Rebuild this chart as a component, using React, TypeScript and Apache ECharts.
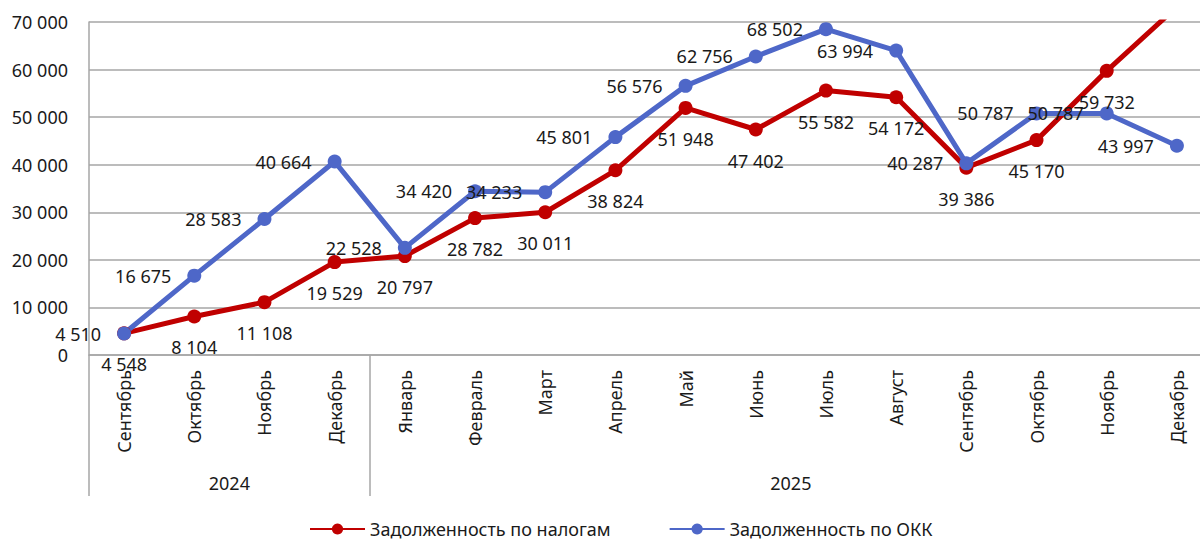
import React, { useEffect, useRef } from 'react';
import * as echarts from 'echarts';

const months = [
  'Сентябрь', 'Октябрь', 'Ноябрь', 'Декабрь',
  'Январь', 'Февраль', 'Март', 'Апрель', 'Май', 'Июнь', 'Июль', 'Август',
  'Сентябрь', 'Октябрь', 'Ноябрь', 'Декабрь',
];
const years = ['2024', '2025'];
const yearBounds = [0, 4, 16];
const taxDebt = [4548, 8104, 11108, 19529, 20797, 28782, 30011, 38824, 51948, 47402, 55582, 54172, 39386, 45170, 59732, 73200];
const okkDebt = [4510, 16675, 28583, 40664, 22528, 34420, 34233, 45801, 56576, 62756, 68502, 63994, 40287, 50787, 50787, 43997];
const seriesNames = ['Задолженность по налогам', 'Задолженность по ОКК'];
const yMin = 0;
const yMax = 70000;
const yStep = 10000;

const FONT = '"Noto Sans", sans-serif';
const RED = '#C00000';
const BLUE = '#4E67C8';
const GRID = '#a6a6a6';

const fmt = (v: number) => String(Math.round(v)).replace(/\B(?=(\d{3})+(?!\d))/g, ' ');

export default function App() {
  const ref = useRef<HTMLDivElement>(null);
  useEffect(() => {
    document.body.style.margin = '0';
    if (!ref.current) return;
    const chart = echarts.init(ref.current, null, { renderer: 'svg' });
    const yearMids = years.map((_, i) => (yearBounds[i] + yearBounds[i + 1]) / 2);
    const labelStyle = { fontFamily: FONT, fontSize: 18, color: '#1a1a1a' };
    chart.setOption({
      animation: false,
      backgroundColor: '#ffffff',
      textStyle: { fontFamily: FONT },
      grid: { left: 89, top: 22, width: 1123, height: 333, outerBoundsMode: 'none' },
      legend: {
        left: 309,
        top: 519,
        padding: 0,
        itemWidth: 55,
        itemHeight: 14,
        itemGap: 58,
        textStyle: { fontFamily: FONT, fontSize: 18, lineHeight: 20, color: '#1a1a1a' },
        data: seriesNames,
      },
      xAxis: [
        {
          type: 'category',
          data: months,
          boundaryGap: true,
          axisLine: { show: true, lineStyle: { color: GRID, width: 1.5 } },
          axisTick: { show: false },
          axisLabel: {
            interval: 0,
            rotate: 90,
            margin: 15,
            fontFamily: FONT,
            fontSize: 18,
            color: '#1a1a1a',
          },
          splitLine: { show: false },
        },
        {
          type: 'value',
          position: 'bottom',
          min: 0,
          max: months.length,
          axisLine: { show: false },
          splitLine: { show: false },
          axisTick: {
            show: true,
            customValues: yearBounds,
            length: 141,
            lineStyle: { color: GRID, width: 1.5 },
          },
          axisLabel: {
            show: true,
            customValues: yearMids,
            margin: 119,
            fontFamily: FONT,
            fontSize: 18,
            color: '#1a1a1a',
            formatter: (v: number) => {
              const i = yearMids.indexOf(v);
              return i >= 0 ? years[i] : '';
            },
          },
        },
      ],
      yAxis: {
        type: 'value',
        min: yMin,
        max: yMax,
        interval: yStep,
        axisLine: { show: true, lineStyle: { color: GRID, width: 1.5 } },
        axisTick: { show: false },
        splitLine: { show: true, lineStyle: { color: GRID, width: 1.5 } },
        axisLabel: {
          margin: 21,
          fontFamily: FONT,
          fontSize: 18,
          color: '#1a1a1a',
          formatter: (v: number) => fmt(v),
        },
      },
      series: [
        {
          name: seriesNames[0],
          type: 'line',
          data: taxDebt.map((v) => (v > yMax ? { value: v, label: { show: false } } : v)),
          color: RED,
          lineStyle: { color: RED, width: 5 },
          itemStyle: { color: RED },
          symbol: 'circle',
          symbolSize: 14,
          clip: true,
          label: {
            show: true,
            position: 'bottom',
            distance: 15,
            ...labelStyle,
            formatter: (p: any) => fmt(p.value),
          },
        },
        {
          name: seriesNames[1],
          type: 'line',
          data: okkDebt,
          color: BLUE,
          lineStyle: { color: BLUE, width: 5 },
          itemStyle: { color: BLUE },
          symbol: 'circle',
          symbolSize: 14,
          clip: true,
          label: {
            show: true,
            position: 'left',
            distance: 16,
            ...labelStyle,
            formatter: (p: any) => fmt(p.value),
          },
        },
      ],
    });
    return () => chart.dispose();
  }, []);
  return <div ref={ref} style={{ width: 1200, height: 540 }} />;
}
